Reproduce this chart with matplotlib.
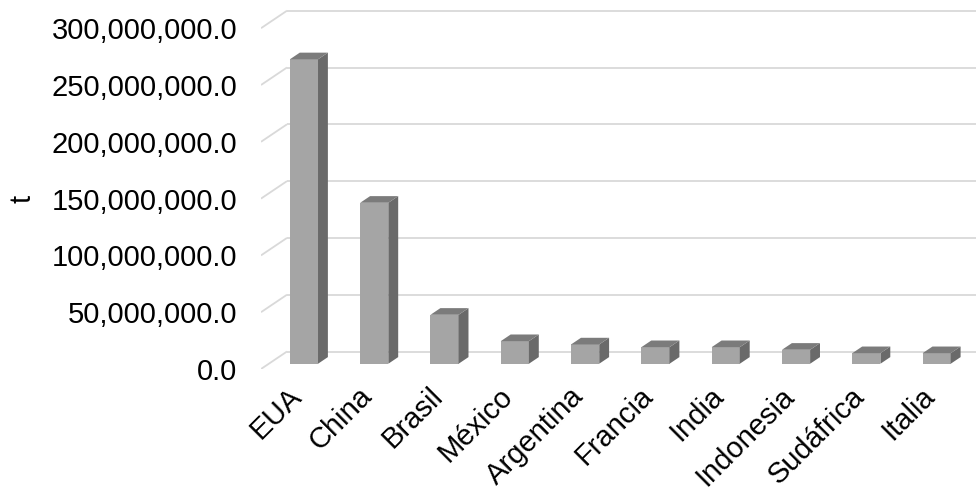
import numpy as np
import matplotlib.pyplot as plt
from matplotlib.ticker import FuncFormatter

# Datos
paises = ['EUA', 'China', 'Brasil', 'México', 'Argentina', 'Francia',
          'India', 'Indonesia', 'Sudáfrica', 'Italia']
produccion = [268.0e6, 141.7e6, 43.1e6, 19.9e6, 17.0e6, 14.6e6,
              14.6e6, 12.3e6, 9.3e6, 9.3e6]
ticks_y = np.arange(0, 300e6 + 1, 50e6)

plt.rcParams['font.family'] = ['Liberation Sans', 'DejaVu Sans']

fig = plt.figure(figsize=(9.76, 4.95), dpi=100)
ax = fig.add_axes([261/976, (495-369)/495, 715/976, 369/495])

# escalas: 70.3 px por categoria, 56.8 px por 50 millones
ymax = 369 / 56.8 * 50e6
ax.set_xlim(-0.5, -0.5 + 715/70.3)
ax.set_ylim(0, ymax)
px_y = 50e6 / 56.8

# profundidad (efecto 3D)
DX = 26 / 70.3
DY = 17.5 * px_y
f0, f1 = 0.30, 0.68  # profundidad de las barras
ancho = 0.40

gris_grid = '#d9d9d9'
for v in ticks_y:
    ax.plot([-0.5, -0.5 + DX], [v, v + DY], color=gris_grid, lw=1.3,
            zorder=1, solid_capstyle='butt')
    ax.plot([-0.5 + DX, ax.get_xlim()[1]], [v + DY, v + DY], color=gris_grid,
            lw=1.3, zorder=1, solid_capstyle='butt')

x = np.arange(len(paises))
for xi, h in zip(x, produccion):
    x0 = xi - ancho/2 + f0*DX
    y0 = f0*DY
    ddx = (f1 - f0)*DX
    ddy = (f1 - f0)*DY
    # cara frontal
    ax.bar(x0, h, width=ancho, bottom=y0, align='edge', color='#a5a5a5',
           edgecolor='none', zorder=3)
    # lado
    ax.fill([x0 + ancho, x0 + ancho + ddx, x0 + ancho + ddx, x0 + ancho],
            [y0, y0 + ddy, y0 + h + ddy, y0 + h], color='#6a6a6a', lw=0, zorder=3)
    # tapa
    ax.fill([x0, x0 + ancho, x0 + ancho + ddx, x0 + ddx],
            [y0 + h, y0 + h, y0 + h + ddy, y0 + h + ddy], color='#7b7b7b',
            lw=0, zorder=3)

for s in ax.spines.values():
    s.set_visible(False)

ax.set_yticks(ticks_y)
ax.yaxis.set_major_formatter(FuncFormatter(lambda v, p: f'{v:,.1f}'))
ax.tick_params(axis='y', length=0, pad=17, labelsize=21)

ax.set_xticks([])
for xi, nombre in zip(x, paises):
    ax.text(xi + 0.02, -23 * px_y, nombre, rotation=45, rotation_mode='anchor',
            ha='right', va='center', fontsize=21)

ax.set_ylabel('t', fontsize=21)
ax.yaxis.set_label_coords((37 - 261) / 715, 150e6 / ymax)

fig.savefig('out.png', dpi=100)
